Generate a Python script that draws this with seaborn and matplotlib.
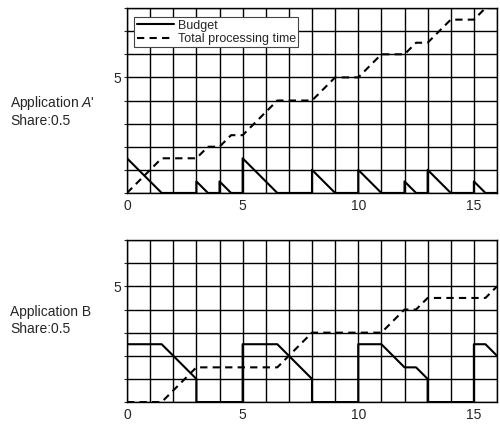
import matplotlib
matplotlib.use("Agg")
import matplotlib.pyplot as plt
import seaborn as sns

# Application A' (top)
a_budget_x = [0, 1.5, 3, 3, 3.5, 4, 4, 4.5, 5, 5, 6.5, 8, 8, 9, 10, 10, 11, 12, 12, 12.5, 13, 13, 14, 15, 15, 15.5, 16]
a_budget_y = [1.5, 0, 0, 0.5, 0, 0, 0.5, 0, 0, 1.5, 0, 0, 1, 0, 0, 1, 0, 0, 0.5, 0, 0, 1, 0, 0, 0.5, 0, 0]
a_total_x = [0, 1.5, 3, 3.5, 4, 4.5, 5, 6.5, 8, 9, 10, 11, 12, 12.5, 13, 14, 15, 15.5, 16]
a_total_y = [0, 1.5, 1.5, 2, 2, 2.5, 2.5, 4, 4, 5, 5, 6, 6, 6.5, 6.5, 7.5, 7.5, 8, 8]

# Application B (bottom)
b_budget_x = [0, 1.5, 3, 3, 5, 5, 6.5, 8, 8, 10, 10, 11, 12, 12.5, 13, 13, 15, 15, 15.5, 16]
b_budget_y = [2.5, 2.5, 1, 0, 0, 2.5, 2.5, 1, 0, 0, 2.5, 2.5, 1.5, 1.5, 1, 0, 0, 2.5, 2.5, 2]
b_total_x = [0, 1.5, 3, 6.5, 8, 11, 12, 12.5, 13, 15.5, 16]
b_total_y = [0, 0, 1.5, 1.5, 3, 3, 4, 4, 4.5, 4.5, 5]

x_labels = {0: "0", 5: "5", 10: "10", 15: "15"}

sns.set_style("white")
plt.rcParams["font.family"] = ["Liberation Sans", "DejaVu Sans"]
plt.rcParams["mathtext.fontset"] = "custom"
plt.rcParams["mathtext.it"] = "Liberation Sans:italic"
plt.rcParams["mathtext.rm"] = "Liberation Sans"

fig = plt.figure(figsize=(5, 4.25), dpi=100)
ax1 = fig.add_axes([0.254, 0.546, 0.74, 0.435])
ax2 = fig.add_axes([0.254, 0.054, 0.74, 0.381])


def draw(ax, bx, by, tx, ty, ymax, legend):
    sns.lineplot(x=bx, y=by, ax=ax, color="black", lw=1.5, estimator=None, sort=False,
                 label="Budget" if legend else None, zorder=3)
    sns.lineplot(x=tx, y=ty, ax=ax, color="black", lw=1.5, estimator=None, sort=False,
                 dashes=False, label="Total processing time" if legend else None, zorder=3)
    ax.lines[-1].set_dashes((3.5, 2.5))
    ax.set_xlim(0, 16)
    ax.set_ylim(0, ymax)
    ax.set_xticks(range(17))
    ax.set_xticklabels([x_labels.get(i, "") for i in range(17)], fontsize=10)
    ax.set_yticks(range(ymax + 1))
    ax.set_yticklabels(["5" if i == 5 else "" for i in range(ymax + 1)], fontsize=10)
    ax.grid(True, color="black", lw=1.0)
    ax.set_axisbelow(True)
    ax.tick_params(axis="x", length=0, pad=4)
    ax.tick_params(axis="y", length=2, width=0.8, pad=2, left=True)
    for s in ax.spines.values():
        s.set_color("black")
        s.set_linewidth(1.0)


draw(ax1, a_budget_x, a_budget_y, a_total_x, a_total_y, 8, True)
draw(ax2, b_budget_x, b_budget_y, b_total_x, b_total_y, 7, False)

leg = ax1.legend(loc="upper left", bbox_to_anchor=(0.019, 0.951), borderaxespad=0,
                 fontsize=9, fancybox=False, framealpha=1, edgecolor="#444444",
                 handlelength=3.0, handletextpad=0.3, labelspacing=0.1, borderpad=0.2)
leg.get_frame().set_linewidth(0.8)

fig.text(0.02, 0.758, "Application $A$'", fontsize=10, va="center")
fig.text(0.02, 0.716, "Share:0.5", fontsize=10, va="center")
fig.text(0.02, 0.265, "Application B", fontsize=10, va="center")
fig.text(0.02, 0.225, "Share:0.5", fontsize=10, va="center")

fig.savefig("out.png", dpi=100)
